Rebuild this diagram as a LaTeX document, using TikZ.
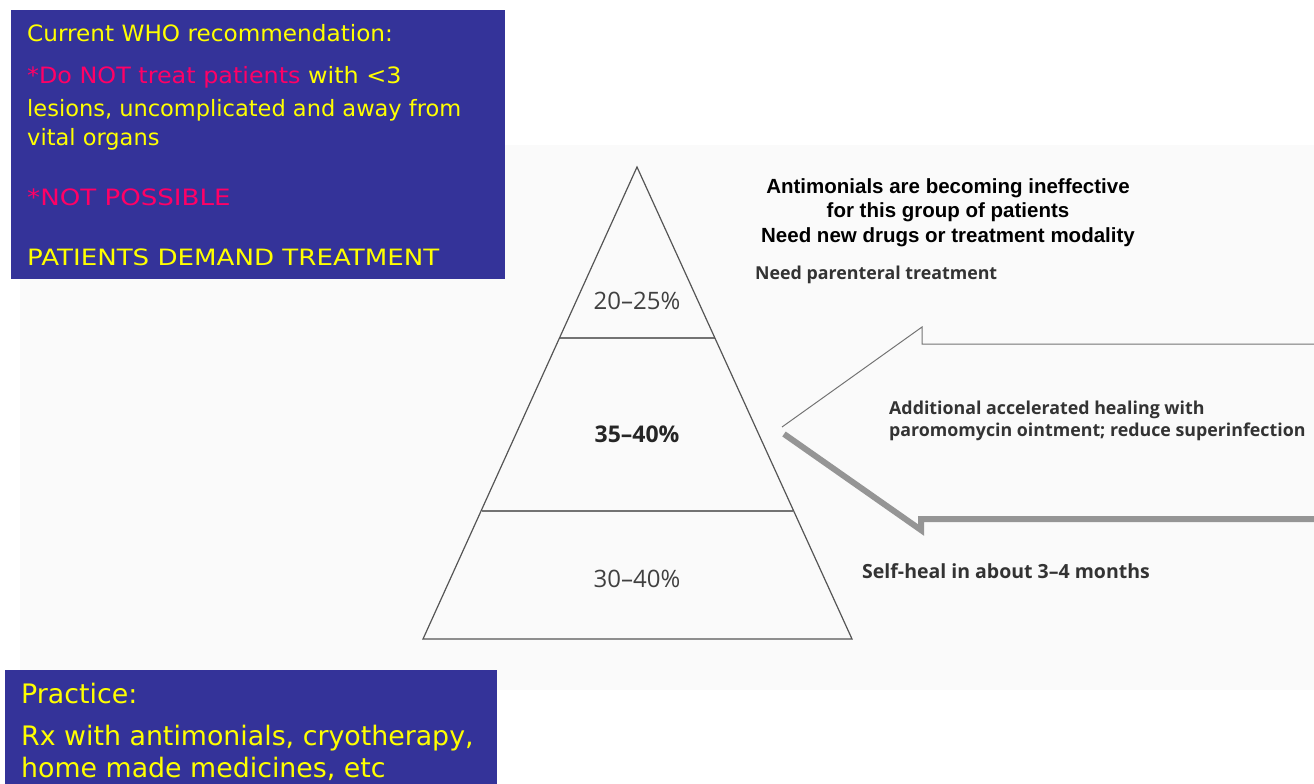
\documentclass[tikz,border=0pt]{standalone}
\usepackage{fontspec}
\usepackage{graphicx}
\setmainfont{Liberation Sans}
\newfontfamily\comic{DejaVu Sans}
\newfontfamily\frut{Open Sans}
\newfontfamily\helv{Liberation Sans}
\definecolor{slideblue}{HTML}{343399}
\definecolor{slideyellow}{HTML}{FFFF00}
\definecolor{slidepink}{HTML}{FF0066}
\definecolor{bgdots}{HTML}{FAFAFA}
\definecolor{linegray}{HTML}{555555}
\definecolor{shadowgray}{HTML}{959595}
\tikzset{
  panel/.style={fill=slideblue, draw=none},
  ytext/.style={anchor=base west, inner sep=0pt, text=slideyellow, font=\comic\fontsize{22.5}{27}\selectfont},
  ptext/.style={anchor=base west, inner sep=0pt, text=slideyellow, font=\comic\fontsize{26.8}{32}\selectfont},
  pct/.style={anchor=base, inner sep=0pt, text=black!75, font=\frut\fontsize{24}{28}\selectfont},
  note/.style={anchor=base west, inner sep=0pt, text=black!80, font=\frut\bfseries\fontsize{17.8}{21}\selectfont},
  head/.style={anchor=base, inner sep=0pt, text=black, font=\helv\bfseries\fontsize{20.5}{24}\selectfont},
  pyr/.style={draw=linegray, line width=1.2pt, line join=miter},
  divider/.style={draw=black!55, line width=1.5pt},
  arrowline/.style={draw=black!55, line width=1pt, line join=miter},
  shadow/.style={draw=shadowgray, line width=6pt, line join=miter}
}
\begin{document}
\begin{tikzpicture}[x=1pt,y=-1pt]
\useasboundingbox (0,0) rectangle (1314,784);
% faint textured background
\fill[bgdots] (20,145) rectangle (1314,690);

% top-left panel
\path[panel] (11,10) rectangle (505,279);
\node[ytext] (who) at (27,42) {\scalebox{1.03}[1]{Current WHO recommendation:}};
\node[ytext] (dont) at (27,83) {\scalebox{1.06}[1]{\textcolor{slidepink}{*Do NOT treat patients} with <3}};
\node[ytext] (les) at (27,116) {lesions, uncomplicated and away from};
\node[ytext] (vital) at (27,145) {vital organs};
\node[ytext, text=slidepink] (notp) at (27,205) {\scalebox{1.16}[1]{*NOT POSSIBLE}};
\node[ytext] (dem) at (27,265) {\scalebox{1.16}[1]{PATIENTS DEMAND TREATMENT}};

% bottom-left panel
\path[panel] (5,670) rectangle (497,784);
\node[ptext] (prac) at (21,703) {Practice:};
\node[ptext] (rx) at (21,745) {Rx with antimonials, cryotherapy,};
\node[ptext] (home) at (21,777) {home made medicines, etc};

% pyramid
\coordinate (apex) at (637,167);
\coordinate (bl) at (423,639);
\coordinate (br) at (852,639);
\draw[divider] (560,338) -- (715,338);
\draw[divider] (482,511) -- (793,511);
\draw[pyr] (apex) -- (br) -- (bl) -- cycle;
\node[pct] (p1) at (637,309) {20–25\%};
\node[pct, text=black!85, font=\frut\bfseries\fontsize{23}{28}\selectfont] (p2) at (637,442) {35–40\%};
\node[pct] (p3) at (637,587) {30–40\%};

% arrow
\coordinate (tip) at (782,427);
\draw[shadow] (784,434) -- (921,530) -- (921,519) -- (1314,519);
\draw[arrowline] (1314,344) -- (922,344) -- (922,327) -- (tip);

% texts
\node[head] (h1) at (948,193) {Antimonials are becoming ineffective};
\node[head] (h2) at (948,217) {for this group of patients};
\node[head] (h3) at (948,242) {Need new drugs or treatment modality};
\node[note] (par) at (755,279) {Need parenteral treatment};
\node[note] (add1) at (889,414) {Additional accelerated healing with};
\node[note] (add2) at (889,436) {paromomycin ointment; reduce superinfection};
\node[note, font=\frut\bfseries\fontsize{19.5}{23}\selectfont] (self) at (862,578) {Self-heal in about 3–4 months};
\end{tikzpicture}
\end{document}
